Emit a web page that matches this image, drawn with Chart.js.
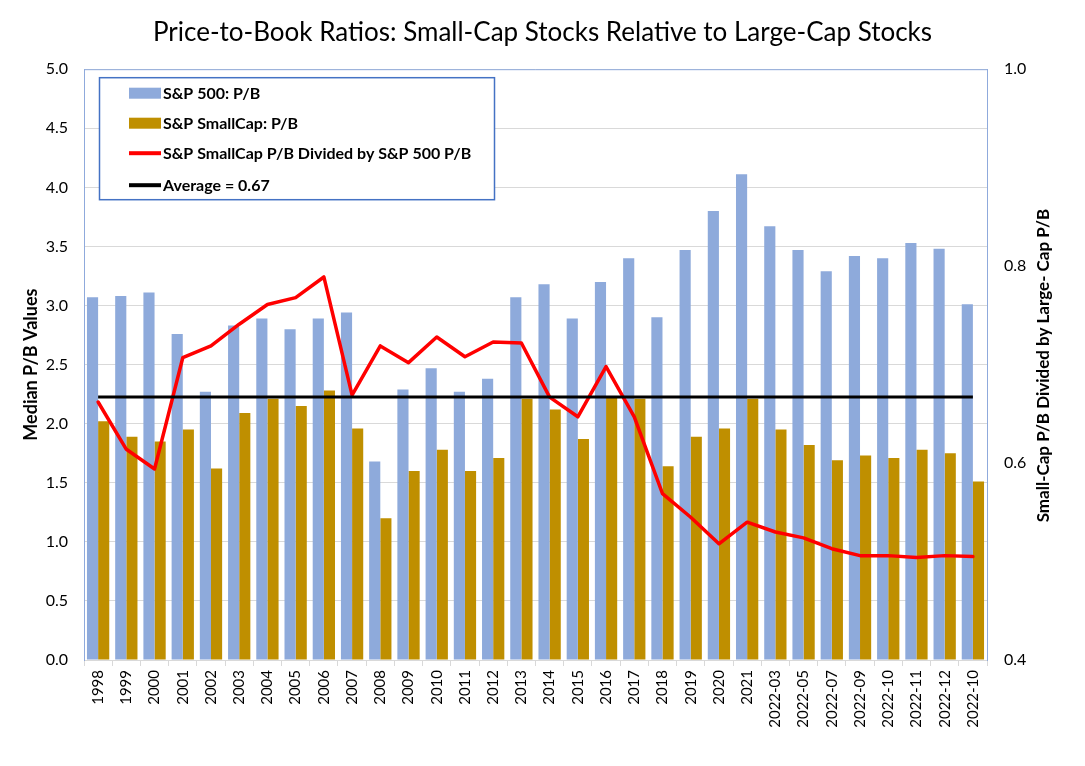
<!DOCTYPE html>
<html>
<head>
<meta charset="utf-8">
<script src="https://cdn.jsdelivr.net/npm/chart.js@4.4.1/dist/chart.umd.min.js"></script>
<style>
  html, body { margin: 0; padding: 0; background: #ffffff; }
  #wrap { width: 1085px; height: 766px; position: relative; }
</style>
</head>
<body>
<div id="wrap"><canvas id="c" width="1085" height="766"></canvas></div>
<script>
// ---------------- data ----------------
const categories = ['1998','1999','2000','2001','2002','2003','2004','2005','2006','2007',
  '2008','2009','2010','2011','2012','2013','2014','2015','2016','2017','2018','2019','2020','2021',
  '2022-03','2022-05','2022-07','2022-09','2022-10','2022-11','2022-12','2022-10'];

const sp500PB = [3.07, 3.08, 3.11, 2.76, 2.27, 2.83, 2.89, 2.80, 2.89, 2.94,
  1.68, 2.29, 2.47, 2.27, 2.38, 3.07, 3.18, 2.89, 3.20, 3.40, 2.90, 3.47, 3.80, 4.11,
  3.67, 3.47, 3.29, 3.42, 3.40, 3.53, 3.48, 3.01];

const smallCapPB = [2.02, 1.89, 1.85, 1.95, 1.62, 2.09, 2.21, 2.15, 2.28, 1.96,
  1.20, 1.60, 1.78, 1.60, 1.71, 2.21, 2.12, 1.87, 2.22, 2.21, 1.64, 1.89, 1.96, 2.21,
  1.95, 1.82, 1.69, 1.73, 1.71, 1.78, 1.75, 1.51];

const ratioPB = [0.662, 0.614, 0.594, 0.707, 0.719, 0.741, 0.761, 0.768, 0.789, 0.669,
  0.719, 0.702, 0.728, 0.708, 0.723, 0.722, 0.667, 0.647, 0.698, 0.647, 0.569, 0.545, 0.518, 0.540,
  0.530, 0.524, 0.513, 0.506, 0.506, 0.504, 0.506, 0.505];

const averageRatio = [0.667, 0.667, 0.667, 0.667, 0.667, 0.667, 0.667, 0.667, 0.667, 0.667,
  0.667, 0.667, 0.667, 0.667, 0.667, 0.667, 0.667, 0.667, 0.667, 0.667, 0.667, 0.667, 0.667, 0.667,
  0.667, 0.667, 0.667, 0.667, 0.667, 0.667, 0.667, 0.667];

const leftAxisTicks = [0, 0.5, 1.0, 1.5, 2.0, 2.5, 3.0, 3.5, 4.0, 4.5, 5.0];
const rightAxisTicks = [0.4, 0.6, 0.8, 1.0];

const seriesNames = ['S&P 500: P/B', 'S&P SmallCap: P/B',
  'S&P SmallCap P/B Divided by S&P 500 P/B', 'Average = 0.67'];
const chartTitle = 'Price-to-Book Ratios: Small-Cap Stocks Relative to Large-Cap Stocks';
const leftAxisTitle = 'Median P/B Values';
const rightAxisTitle = 'Small-Cap P/B Divided by Large- Cap P/B';

// ---------------- styles ----------------
const FONT = 'Lato, "Open Sans", "Liberation Sans", sans-serif';
const BLUE = '#8EAADB';
const GOLD = '#BF8F00';
const AXIS_BLUE = '#8FAADC';
const GRID = '#D9D9D9';

const decorPlugin = {
  id: 'decor',
  afterDraw(chart) {
    const ctx = chart.ctx;
    const a = chart.chartArea;
    ctx.save();
    // top border of plot area
    ctx.strokeStyle = AXIS_BLUE;
    ctx.lineWidth = 1;
    ctx.beginPath();
    ctx.moveTo(a.left, a.top + 0.5);
    ctx.lineTo(a.right, a.top + 0.5);
    ctx.stroke();

    // legend box
    const bx = a.left + 15, by = a.top + 8, bw = 395, bh = 122;
    ctx.fillStyle = '#ffffff';
    ctx.fillRect(bx, by, bw, bh);
    ctx.strokeStyle = '#4472C4';
    ctx.lineWidth = 1.5;
    ctx.strokeRect(bx + 0.5, by + 0.5, bw, bh);
    const rowY = [16, 46, 76, 108];
    chart.data.datasets.forEach((ds, i) => {
      const y = by + rowY[i];
      const sx = bx + 30, sw = 32;
      if ((ds.type || chart.config.type) === 'bar') {
        ctx.fillStyle = ds.backgroundColor;
        ctx.fillRect(sx, y - 5.5, sw, 11);
      } else {
        ctx.strokeStyle = ds.borderColor;
        ctx.lineWidth = 4;
        ctx.beginPath();
        ctx.moveTo(sx, y);
        ctx.lineTo(sx + sw, y);
        ctx.stroke();
      }
      ctx.fillStyle = '#000000';
      ctx.font = 'bold 16px ' + FONT;
      ctx.textAlign = 'left';
      ctx.textBaseline = 'middle';
      ctx.fillText(ds.label, sx + sw + 2, y + 1);
    });

    // right axis title (reads bottom-to-top)
    ctx.translate(1044, (a.top + a.bottom) / 2 + 1);
    ctx.rotate(-Math.PI / 2);
    ctx.fillStyle = '#000000';
    ctx.font = 'bold 17px ' + FONT;
    ctx.textAlign = 'center';
    ctx.textBaseline = 'middle';
    ctx.fillText(rightAxisTitle, 0, 0);
    ctx.restore();
  }
};

new Chart(document.getElementById('c'), {
  type: 'bar',
  data: {
    labels: categories,
    datasets: [
      { label: seriesNames[0], data: sp500PB, backgroundColor: BLUE, yAxisID: 'y', order: 2,
        categoryPercentage: 0.79, barPercentage: 1.0 },
      { label: seriesNames[1], data: smallCapPB, backgroundColor: GOLD, yAxisID: 'y', order: 2,
        categoryPercentage: 0.79, barPercentage: 1.0 },
      { type: 'line', label: seriesNames[2], data: ratioPB, borderColor: '#FF0000', backgroundColor: '#FF0000',
        borderWidth: 3.5, pointRadius: 0, fill: false, tension: 0, yAxisID: 'y1', order: 1,
        borderJoinStyle: 'round', borderCapStyle: 'round' },
      { type: 'line', label: seriesNames[3], data: averageRatio, borderColor: '#000000', backgroundColor: '#000000',
        borderWidth: 3, pointRadius: 0, fill: false, tension: 0, yAxisID: 'y1', order: 0 }
    ]
  },
  options: {
    responsive: false,
    animation: false,
    devicePixelRatio: 1,
    layout: { padding: { left: 0, right: 0, top: 0, bottom: 0 } },
    plugins: {
      legend: { display: false },
      tooltip: { enabled: false },
      title: {
        display: true,
        text: chartTitle,
        color: '#000000',
        font: { family: FONT, size: 26, weight: 'normal', lineHeight: 1.2 },
        padding: { top: 17, bottom: 21 }
      }
    },
    scales: {
      x: {
        offset: true,
        grid: { offset: true, drawOnChartArea: false, color: GRID, tickLength: 6 },
        border: { color: GRID, width: 1 },
        ticks: { autoSkip: false, minRotation: 90, maxRotation: 90, padding: 4,
                 color: '#000000', font: { family: FONT, size: 15 } },
        afterFit(scale) { scale.height = 106; }
      },
      y: {
        position: 'left',
        min: 0, max: 5,
        afterBuildTicks(scale) { scale.ticks = leftAxisTicks.map(v => ({ value: v })); },
        grid: { color: GRID, drawTicks: false },
        border: { color: AXIS_BLUE, width: 1 },
        ticks: { padding: 16, color: '#000000', font: { family: FONT, size: 16 },
                 callback: v => Number(v).toFixed(1) },
        title: { display: true, text: leftAxisTitle, color: '#000000',
                 font: { family: FONT, size: 18, weight: 'bold' }, padding: { top: 20, bottom: 0 } },
        afterFit(scale) { scale.width = 84; }
      },
      y1: {
        position: 'right',
        min: 0.4, max: 1.0,
        afterBuildTicks(scale) { scale.ticks = rightAxisTicks.map(v => ({ value: v })); },
        grid: { drawOnChartArea: false, drawTicks: false },
        border: { color: AXIS_BLUE, width: 1 },
        ticks: { padding: 17, color: '#000000', font: { family: FONT, size: 16 },
                 callback: v => Number(v).toFixed(1) },
        afterFit(scale) { scale.width = 98; }
      }
    }
  },
  plugins: [decorPlugin]
});
</script>
</body>
</html>
